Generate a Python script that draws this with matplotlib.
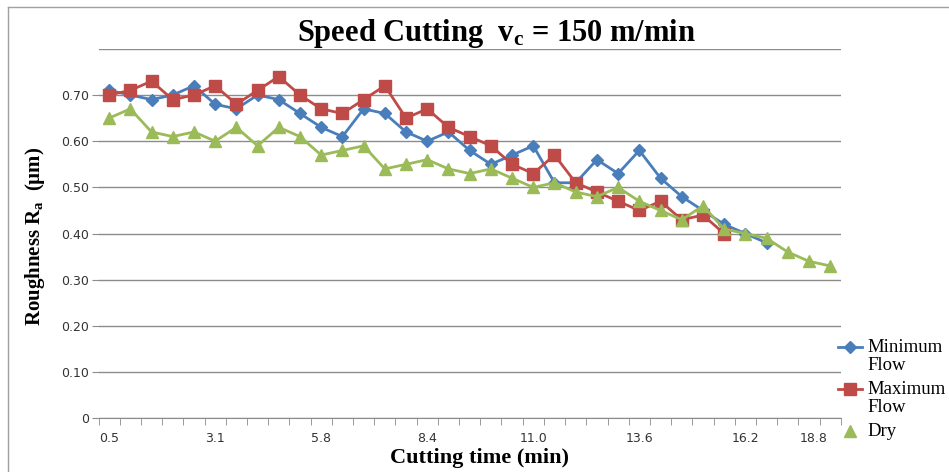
# roughness vs cutting time at vc = 150 m/min, three cooling conditions
import numpy as np
import matplotlib.pyplot as plt
from matplotlib.lines import Line2D

plt.rcParams['mathtext.fontset'] = 'custom'
plt.rcParams['mathtext.rm'] = 'Liberation Serif:bold'
plt.rcParams['mathtext.it'] = 'Liberation Serif:bold'
plt.rcParams['mathtext.bf'] = 'Liberation Serif:bold'

# readings, one per sample (category axis)
min_flow = [0.71, 0.70, 0.69, 0.70, 0.72, 0.68, 0.67, 0.70, 0.69, 0.66,
            0.63, 0.61, 0.67, 0.66, 0.62, 0.60, 0.62, 0.58, 0.55, 0.57,
            0.59, 0.51, 0.51, 0.56, 0.53, 0.58, 0.52, 0.48, 0.45, 0.42,
            0.40, 0.38]
max_flow = [0.70, 0.71, 0.73, 0.69, 0.70, 0.72, 0.68, 0.71, 0.74, 0.70,
            0.67, 0.66, 0.69, 0.72, 0.65, 0.67, 0.63, 0.61, 0.59, 0.55,
            0.53, 0.57, 0.51, 0.49, 0.47, 0.45, 0.47, 0.43, 0.44, 0.40]
dry = [0.65, 0.67, 0.62, 0.61, 0.62, 0.60, 0.63, 0.59, 0.63, 0.61,
       0.57, 0.58, 0.59, 0.54, 0.55, 0.56, 0.54, 0.53, 0.54, 0.52,
       0.50, 0.51, 0.49, 0.48, 0.50, 0.47, 0.45, 0.43, 0.46, 0.41,
       0.40, 0.39, 0.36, 0.34, 0.33]

n_cat = 35
xlabels = ["0.5", "3.1", "5.8", "8.4", "11.0", "13.6", "16.2", "18.8"]
xlabel_pos = [0, 5, 10, 15, 20, 25, 30, 33.2]   # last one sits squeezed in like excel did
ytick_vals = [0, 0.1, 0.2, 0.3, 0.4, 0.5, 0.6, 0.7, 0.8]
ytick_labels = ["0", "0.10", "0.20", "0.30", "0.40", "0.50", "0.60", "0.70", ""]
series_names = ["Minimum\nFlow", "Maximum\nFlow", "Dry"]

blue = "#4A7EBB"
red = "#BE4B48"
green = "#9BBB59"

fig = plt.figure(figsize=(9.49, 4.72), dpi=100)
ax = fig.add_axes([0.1038, 0.1136, 0.886 - 0.1038, 0.8966 - 0.1136])

ax.plot(np.arange(len(min_flow)), min_flow, color=blue, lw=2, marker="D", ms=6, zorder=3)
ax.plot(np.arange(len(max_flow)), max_flow, color=red, lw=2, marker="s", ms=8.5, zorder=4)
ax.plot(np.arange(len(dry)), dry, color=green, lw=2, marker="^", ms=9, zorder=5)

ax.set_xlim(-0.5, n_cat - 0.5)
ax.set_ylim(0, 0.8)

ax.set_yticks(ytick_vals)
ax.set_yticklabels(ytick_labels, fontsize=9, color="#333333", family="DejaVu Sans")
ax.yaxis.grid(True, color="#8c8c8c", lw=1)
ax.set_axisbelow(True)
ax.tick_params(axis="y", length=5, color="#8c8c8c", pad=2)
ax.yaxis.get_major_ticks()[-1].tick1line.set_visible(False)

ax.set_xticks(xlabel_pos)
ax.set_xticklabels(xlabels, fontsize=9, color="#333333", family="DejaVu Sans")
ax.set_xticks(np.arange(-0.5, n_cat, 1), minor=True)
ax.tick_params(axis="x", which="major", length=0, pad=10)
ax.tick_params(axis="x", which="minor", length=5, color="#8c8c8c")

for s in ["top", "right", "left"]:
    ax.spines[s].set_visible(False)
ax.spines["bottom"].set_color("#8c8c8c")

fig.text(0.523, 0.93, r"Speed Cutting  v$_{c}$ = 150 m/min", ha="center", va="center",
         fontsize=22, fontweight="bold", family="Liberation Serif")
fig.text(0.037, 0.5, r"Roughness R$_{a}$  (µm)", ha="center", va="center", rotation=90,
         fontsize=15, fontweight="bold", family="Liberation Serif")
fig.text(0.505, 0.03, "Cutting time (min)", ha="center", va="center",
         fontsize=16, fontweight="bold", family="Liberation Serif")

# excel style legend: handle sits on the first text line, dry shows only its marker
handles = [dict(color=blue, lw=2, marker="D", ms=6),
           dict(color=red, lw=2, marker="s", ms=8.5),
           dict(color=green, lw=0, marker="^", ms=9)]
y = 1 - 347/472
for name, hd in zip(series_names, handles):
    fig.add_artist(Line2D([838/949, 862/949], [y, y], transform=fig.transFigure, **hd, markevery=[]))
    fig.add_artist(Line2D([850/949], [y], transform=fig.transFigure, color=hd["color"],
                          marker=hd["marker"], ms=hd["ms"], lw=0))
    lines = name.split("\n")
    for j, part in enumerate(lines):
        fig.text(867/949, y - j*19/472, part, ha="left", va="center",
                 fontsize=13.5, family="Liberation Serif")
    y -= (len(lines)*19 + 4)/472

# chart area border, left and top edges show in the crop
fig.add_artist(Line2D([8/949, 8/949], [0, 1 - 7/472], color="#a0a0a0", lw=1, transform=fig.transFigure))
fig.add_artist(Line2D([8/949, 1], [1 - 7/472, 1 - 7/472], color="#a0a0a0", lw=1, transform=fig.transFigure))

fig.savefig("out.png", dpi=100)
